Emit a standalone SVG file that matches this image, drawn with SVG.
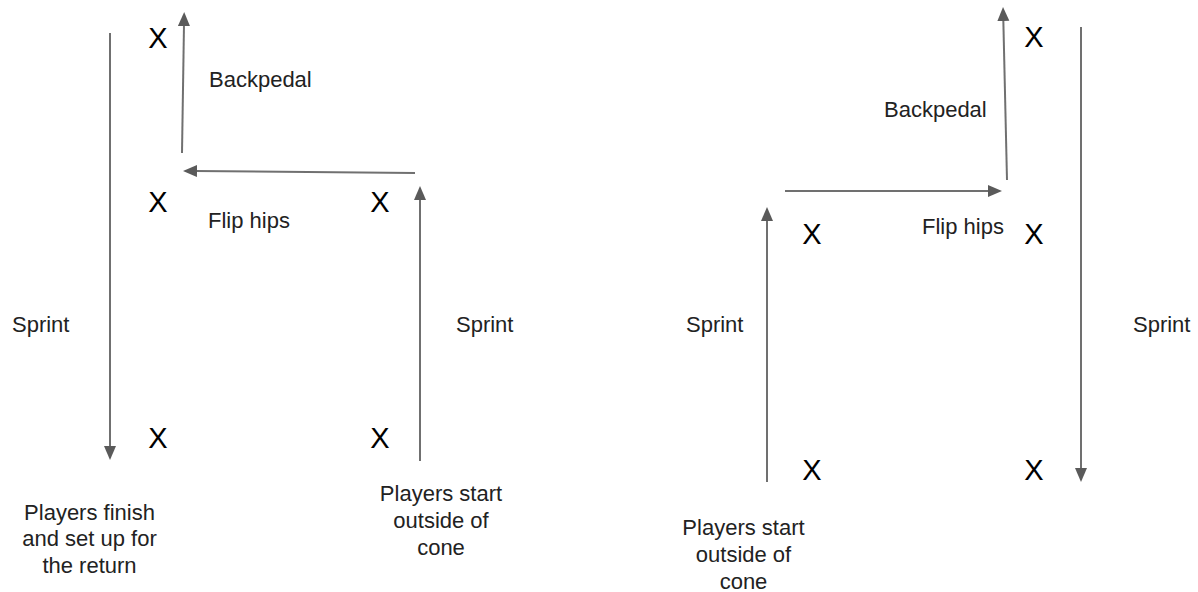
<svg xmlns="http://www.w3.org/2000/svg" width="1198" height="592" viewBox="0 0 1198 592">
<style>
.lbl{font-family:"Liberation Sans",Arial,sans-serif;font-size:22px;fill:#222}
.c{text-anchor:middle}
.x{font-family:"Liberation Sans",Arial,sans-serif;font-size:29px;fill:#000;text-anchor:middle}
.ln{stroke:#707070;stroke-width:2;fill:none}
</style>
<defs>
<marker id="ah" markerUnits="userSpaceOnUse" markerWidth="16" markerHeight="14" refX="2" refY="6" orient="auto">
<path d="M0,0 L14,6 L0,12 z" fill="#5a5a5a"/>
</marker>
</defs>
<rect width="1198" height="592" fill="#fff"/>
<g id="connectors">
<line class="ln" x1="110" y1="33" x2="110" y2="448" marker-end="url(#ah)"/>
<line class="ln" x1="182" y1="153" x2="184" y2="24" marker-end="url(#ah)"/>
<line class="ln" x1="415" y1="173" x2="195" y2="171" marker-end="url(#ah)"/>
<line class="ln" x1="420" y1="461" x2="420" y2="198" marker-end="url(#ah)"/>
<line class="ln" x1="1007" y1="180" x2="1003.3" y2="19" marker-end="url(#ah)"/>
<line class="ln" x1="785" y1="191" x2="990" y2="191" marker-end="url(#ah)"/>
<line class="ln" x1="767" y1="482" x2="767" y2="219" marker-end="url(#ah)"/>
<line class="ln" x1="1081" y1="27" x2="1081" y2="470" marker-end="url(#ah)"/>
</g>
<g id="cone-l1"><text class="x" x="158" y="48">X</text></g>
<g id="cone-l2"><text class="x" x="158" y="212">X</text></g>
<g id="cone-l3"><text class="x" x="158" y="448">X</text></g>
<g id="cone-l4"><text class="x" x="380" y="212">X</text></g>
<g id="cone-l5"><text class="x" x="380" y="448">X</text></g>
<g id="cone-r1"><text class="x" x="1034" y="47">X</text></g>
<g id="cone-r2"><text class="x" x="812" y="244">X</text></g>
<g id="cone-r3"><text class="x" x="1034" y="244">X</text></g>
<g id="cone-r4"><text class="x" x="812" y="480">X</text></g>
<g id="cone-r5"><text class="x" x="1034" y="480">X</text></g>
<g id="labels-left">
<text class="lbl" x="209" y="87">Backpedal</text>
<text class="lbl" x="208" y="228">Flip hips</text>
<text class="lbl" x="12" y="332">Sprint</text>
<text class="lbl" x="456" y="332">Sprint</text>
<text class="lbl c" x="89.5" y="520">Players finish</text>
<text class="lbl c" x="89.5" y="546">and set up for</text>
<text class="lbl c" x="89.5" y="573">the return</text>
<text class="lbl c" x="441" y="501">Players start</text>
<text class="lbl c" x="441" y="528">outside of</text>
<text class="lbl c" x="441" y="555">cone</text>
</g>
<g id="labels-right">
<text class="lbl" x="884" y="117">Backpedal</text>
<text class="lbl" x="922" y="234">Flip hips</text>
<text class="lbl" x="686" y="332">Sprint</text>
<text class="lbl" x="1133" y="332">Sprint</text>
<text class="lbl c" x="743.5" y="535">Players start</text>
<text class="lbl c" x="743.5" y="562">outside of</text>
<text class="lbl c" x="743.5" y="589">cone</text>
</g>
</svg>
